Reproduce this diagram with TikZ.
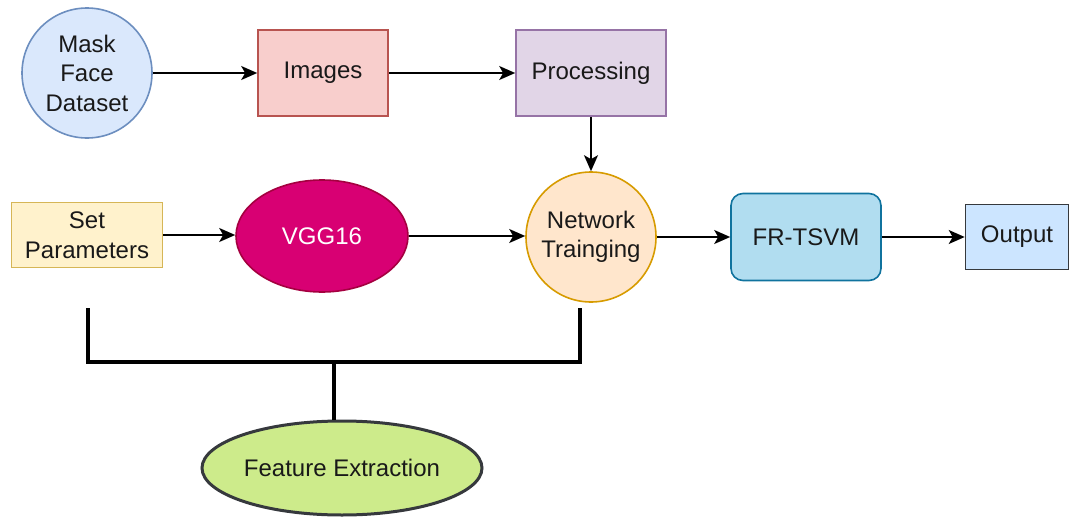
\documentclass[tikz,border=0pt]{standalone}
\usepackage{fontspec}
\setmainfont{Liberation Sans}
\usetikzlibrary{arrows.meta,shapes.geometric}
\definecolor{bluefill}{HTML}{DAE8FC}\definecolor{bluedraw}{HTML}{6C8EBF}
\definecolor{redfill}{HTML}{F8CECC}\definecolor{reddraw}{HTML}{B85450}
\definecolor{purfill}{HTML}{E1D5E7}\definecolor{purdraw}{HTML}{9673A6}
\definecolor{yelfill}{HTML}{FFF2CC}\definecolor{yeldraw}{HTML}{D6B656}
\definecolor{magfill}{HTML}{D80073}\definecolor{magdraw}{HTML}{A50040}
\definecolor{orfill}{HTML}{FFE6CC}\definecolor{ordraw}{HTML}{D79B00}
\definecolor{cyfill}{HTML}{B1DDF0}\definecolor{cydraw}{HTML}{10739E}
\definecolor{outfill}{HTML}{CCE5FF}\definecolor{darkdraw}{HTML}{36393D}
\definecolor{grfill}{HTML}{CDEB8B}
\begin{document}
\begin{tikzpicture}[x=1pt,y=-1pt,
  every node/.style={font=\fontsize{24}{29.5}\selectfont, align=center, inner sep=0pt, line width=1.6pt, text=black!90},
  circ/.style={circle, draw, minimum size=130pt},
  boxn/.style={rectangle, draw},
  arr/.style={line width=1.8pt, -{Stealth[length=16pt,width=14pt,inset=4pt]}},
  brk/.style={line width=3.5pt}
]
\useasboundingbox (0,0) rectangle (1072,522);
\node[circ, fill=bluefill, draw=bluedraw] (mask) at (87,73) {Mask\\Face\\Dataset};
\node[boxn, fill=redfill, draw=reddraw, minimum width=130pt, minimum height=86pt] (img) at (323,73) {Images};
\node[boxn, fill=purfill, draw=purdraw, minimum width=150pt, minimum height=86pt] (proc) at (591,73) {Processing};
\node[boxn, fill=yelfill, draw=yeldraw, minimum width=151pt, minimum height=65pt] (set) at (87,235) {Set\\Parameters};
\node[ellipse, fill=magfill, draw=magdraw, minimum width=172pt, minimum height=112pt, text=white] (vgg) at (322,236) {VGG16};
\node[circ, fill=orfill, draw=ordraw] (net) at (591,237) {Network\\Trainging};
\node[boxn, rounded corners=12pt, fill=cyfill, draw=cydraw, minimum width=150pt, minimum height=87pt] (fr) at (806,237) {FR-TSVM};
\node[boxn, fill=outfill, draw=darkdraw, minimum width=103pt, minimum height=65pt] (out) at (1017,237) {Output};
\node[ellipse, fill=grfill, draw=darkdraw, line width=3pt, minimum width=280pt, minimum height=94pt] (fe) at (342,468) {Feature Extraction};

\draw[arr] (mask) -- (img);
\draw[arr] (img) -- (proc);
\draw[arr] (proc) -- (net);
\draw[arr] (set.east) -- (set.east -| vgg.west);
\draw[arr] (vgg.east) -- (vgg.east -| net.west);
\draw[arr] (net.east) -- (fr.west);
\draw[arr] (fr) -- (out);

\coordinate (bl) at (88,308);
\coordinate (br) at (580,308);
\coordinate (bm) at (334,362);
\draw[brk] (bl) -- (88,362) -- (580,362) -- (br);
\draw[brk] (bm) -- (fe.north -| bm);
\end{tikzpicture}
\end{document}
